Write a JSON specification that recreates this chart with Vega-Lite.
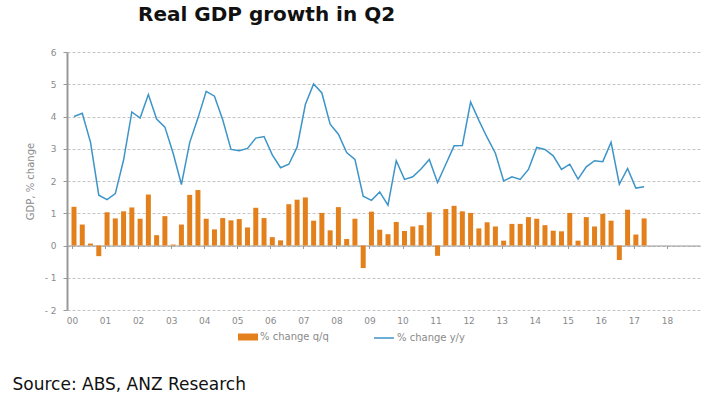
{
  "$schema": "https://vega.github.io/schema/vega-lite/v6.json",
  "width": 633,
  "height": 258,
  "autosize": {"type": "none"},
  "padding": {"left": 67, "top": 52, "right": 15, "bottom": 86},
  "background": "white",
  "title": {
    "text": "Real GDP growth in Q2",
    "anchor": "start",
    "frame": "group",
    "dx": 71,
    "offset": 7,
    "baseline": "alphabetic",
    "font": "DejaVu Sans",
    "fontSize": 20,
    "fontWeight": "bold",
    "color": "#111111"
  },
  "config": {
    "view": {"stroke": null},
    "font": "DejaVu Sans"
  },
  "data": {
    "values": [
      {"t": 2000.00, "qq": 1.20, "yy": 4.00},
      {"t": 2000.25, "qq": 0.65, "yy": 4.10},
      {"t": 2000.50, "qq": 0.06, "yy": 3.20},
      {"t": 2000.75, "qq": -0.33, "yy": 1.56},
      {"t": 2001.00, "qq": 1.03, "yy": 1.42},
      {"t": 2001.25, "qq": 0.84, "yy": 1.61},
      {"t": 2001.50, "qq": 1.06, "yy": 2.65},
      {"t": 2001.75, "qq": 1.18, "yy": 4.14},
      {"t": 2002.00, "qq": 0.83, "yy": 3.95},
      {"t": 2002.25, "qq": 1.58, "yy": 4.68},
      {"t": 2002.50, "qq": 0.32, "yy": 3.92},
      {"t": 2002.75, "qq": 0.91, "yy": 3.67},
      {"t": 2003.00, "qq": 0.03, "yy": 2.86},
      {"t": 2003.25, "qq": 0.65, "yy": 1.89},
      {"t": 2003.50, "qq": 1.57, "yy": 3.19},
      {"t": 2003.75, "qq": 1.72, "yy": 3.95},
      {"t": 2004.00, "qq": 0.83, "yy": 4.78},
      {"t": 2004.25, "qq": 0.50, "yy": 4.63},
      {"t": 2004.50, "qq": 0.85, "yy": 3.90},
      {"t": 2004.75, "qq": 0.78, "yy": 2.98},
      {"t": 2005.00, "qq": 0.82, "yy": 2.94},
      {"t": 2005.25, "qq": 0.56, "yy": 3.01},
      {"t": 2005.50, "qq": 1.17, "yy": 3.33},
      {"t": 2005.75, "qq": 0.85, "yy": 3.38},
      {"t": 2006.00, "qq": 0.26, "yy": 2.81},
      {"t": 2006.25, "qq": 0.16, "yy": 2.41},
      {"t": 2006.50, "qq": 1.28, "yy": 2.52},
      {"t": 2006.75, "qq": 1.42, "yy": 3.05},
      {"t": 2007.00, "qq": 1.49, "yy": 4.37},
      {"t": 2007.25, "qq": 0.77, "yy": 5.01},
      {"t": 2007.50, "qq": 1.01, "yy": 4.73},
      {"t": 2007.75, "qq": 0.47, "yy": 3.76},
      {"t": 2008.00, "qq": 1.19, "yy": 3.45},
      {"t": 2008.25, "qq": 0.20, "yy": 2.88},
      {"t": 2008.50, "qq": 0.83, "yy": 2.67},
      {"t": 2008.75, "qq": -0.70, "yy": 1.53},
      {"t": 2009.00, "qq": 1.05, "yy": 1.40},
      {"t": 2009.25, "qq": 0.49, "yy": 1.66},
      {"t": 2009.50, "qq": 0.35, "yy": 1.25},
      {"t": 2009.75, "qq": 0.73, "yy": 2.63},
      {"t": 2010.00, "qq": 0.45, "yy": 2.05},
      {"t": 2010.25, "qq": 0.59, "yy": 2.13},
      {"t": 2010.50, "qq": 0.63, "yy": 2.37},
      {"t": 2010.75, "qq": 1.03, "yy": 2.67},
      {"t": 2011.00, "qq": -0.32, "yy": 1.95},
      {"t": 2011.25, "qq": 1.13, "yy": 2.52},
      {"t": 2011.50, "qq": 1.23, "yy": 3.09},
      {"t": 2011.75, "qq": 1.06, "yy": 3.10},
      {"t": 2012.00, "qq": 1.01, "yy": 4.45},
      {"t": 2012.25, "qq": 0.53, "yy": 3.88},
      {"t": 2012.50, "qq": 0.72, "yy": 3.35},
      {"t": 2012.75, "qq": 0.59, "yy": 2.86},
      {"t": 2013.00, "qq": 0.15, "yy": 2.00},
      {"t": 2013.25, "qq": 0.67, "yy": 2.13},
      {"t": 2013.50, "qq": 0.67, "yy": 2.05},
      {"t": 2013.75, "qq": 0.88, "yy": 2.36},
      {"t": 2014.00, "qq": 0.83, "yy": 3.04},
      {"t": 2014.25, "qq": 0.63, "yy": 2.98},
      {"t": 2014.50, "qq": 0.46, "yy": 2.78},
      {"t": 2014.75, "qq": 0.44, "yy": 2.36},
      {"t": 2015.00, "qq": 1.01, "yy": 2.52},
      {"t": 2015.25, "qq": 0.15, "yy": 2.06},
      {"t": 2015.50, "qq": 0.88, "yy": 2.44},
      {"t": 2015.75, "qq": 0.59, "yy": 2.63},
      {"t": 2016.00, "qq": 0.98, "yy": 2.60},
      {"t": 2016.25, "qq": 0.77, "yy": 3.20},
      {"t": 2016.50, "qq": -0.45, "yy": 1.90},
      {"t": 2016.75, "qq": 1.11, "yy": 2.39},
      {"t": 2017.00, "qq": 0.34, "yy": 1.78},
      {"t": 2017.25, "qq": 0.84, "yy": 1.82}
    ]
  },
  "layer": [
    {
      "mark": {"type": "bar", "size": 5, "xOffset": 2},
      "encoding": {
        "x": {
          "field": "t",
          "type": "quantitative",
          "scale": {"domain": [2000, 2018.85], "nice": false, "zero": false},
          "axis": {
            "orient": "bottom",
            "values": [2000,2001,2002,2003,2004,2005,2006,2007,2008,2009,2010,2011,2012,2013,2014,2015,2016,2017,2018],
            "labelExpr": "substring(toString(datum.value), 2)",
            "labelFont": "DejaVu Sans",
            "labelFontSize": 9,
            "labelColor": "#8a8a8a",
            "labelPadding": 6,
            "ticks": false,
            "domain": false,
            "grid": false,
            "title": "Source: ABS, ANZ Research",
            "titleX": -55,
            "titleY": 79,
            "titleAlign": "left",
            "titleAnchor": "start",
            "titleBaseline": "alphabetic",
            "titleFont": "DejaVu Sans",
            "titleFontSize": 17,
            "titleFontWeight": "normal",
            "titleColor": "#111111"
          }
        },
        "y": {
          "field": "qq",
          "type": "quantitative",
          "scale": {"domain": [-2, 6], "nice": false},
          "axis": {
            "title": "GDP, % change",
            "values": [-2,-1,0,1,2,3,4,5,6],
            "labelExpr": "datum.value < 0 ? '- ' + toString(-datum.value) : toString(datum.value)",
            "labelOverlap": false,
            "labelFont": "DejaVu Sans",
            "labelFontSize": 9,
            "labelColor": "#8a8a8a",
            "labelPadding": 7,
            "tickColor": "#999999",
            "tickSize": 4,
            "domainColor": "#999999",
            "domainWidth": 2,
            "grid": true,
            "gridColor": "#c4c4c4",
            "gridDash": [3, 2],
            "gridWidth": 1,
            "titleFont": "DejaVu Sans",
            "titleFontSize": 10,
            "titleFontWeight": "normal",
            "titleColor": "#8a8a8a",
            "titlePadding": 9
          }
        },
        "fill": {
          "datum": "% change q/q",
          "scale": {"range": ["#E3801B"]},
          "legend": {
            "orient": "none",
            "legendX": 171,
            "legendY": 275,
            "title": null,
            "padding": 0,
            "symbolType": "M-1,-0.35H1V0.35H-1Z",
            "symbolSize": 400,
            "symbolStrokeWidth": 0,
            "labelFont": "DejaVu Sans",
            "labelFontSize": 10,
            "labelColor": "#8a8a8a",
            "labelOffset": 2
          }
        }
      }
    },
    {
      "mark": {"type": "line", "strokeWidth": 1.5, "xOffset": 2},
      "encoding": {
        "x": {
          "field": "t",
          "type": "quantitative",
          "axis": {
            "orient": "bottom",
            "offset": -64.5,
            "values": [2000,2001,2002,2003,2004,2005,2006,2007,2008,2009,2010,2011,2012,2013,2014,2015,2016,2017,2018],
            "labels": false,
            "ticks": true,
            "tickSize": 3,
            "tickColor": "#999999",
            "domain": true,
            "domainColor": "#999999",
            "domainWidth": 1,
            "grid": false,
            "title": null
          }
        },
        "y": {
          "field": "yy",
          "type": "quantitative",
          "axis": {
            "title": "GDP, % change",
            "values": [-2,-1,0,1,2,3,4,5,6],
            "labelExpr": "datum.value < 0 ? '- ' + toString(-datum.value) : toString(datum.value)",
            "labelOverlap": false,
            "labelFont": "DejaVu Sans",
            "labelFontSize": 9,
            "labelColor": "#8a8a8a",
            "labelPadding": 7,
            "tickColor": "#999999",
            "tickSize": 4,
            "domainColor": "#999999",
            "domainWidth": 2,
            "grid": true,
            "gridColor": "#c4c4c4",
            "gridDash": [3, 2],
            "gridWidth": 1,
            "titleFont": "DejaVu Sans",
            "titleFontSize": 10,
            "titleFontWeight": "normal",
            "titleColor": "#8a8a8a",
            "titlePadding": 9
          }
        },
        "stroke": {
          "datum": "% change y/y",
          "scale": {"range": ["#3D94C8"]},
          "legend": {
            "orient": "none",
            "legendX": 306,
            "legendY": 275,
            "title": null,
            "padding": 0,
            "symbolType": "stroke",
            "symbolSize": 400,
            "symbolStrokeWidth": 1.5,
            "labelFont": "DejaVu Sans",
            "labelFontSize": 10,
            "labelColor": "#8a8a8a",
            "labelOffset": 2
          }
        }
      }
    }
  ],
  "resolve": {"axis": {"x": "independent"}}
}
